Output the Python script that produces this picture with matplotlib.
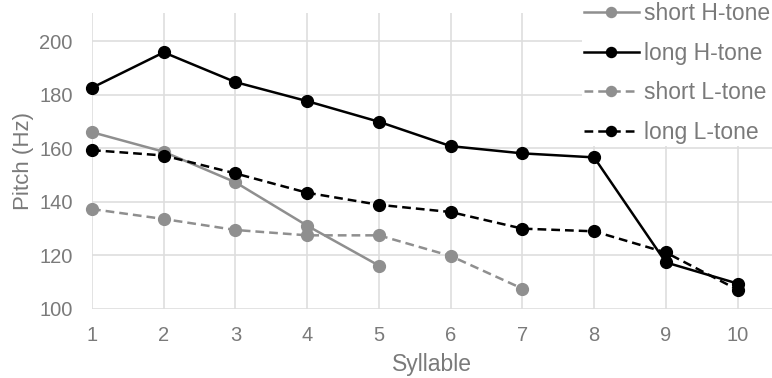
import matplotlib
matplotlib.use("Agg")
import matplotlib.pyplot as plt

plt.rcParams['font.family'] = ['Liberation Sans', 'DejaVu Sans']

syll_long = [1, 2, 3, 4, 5, 6, 7, 8, 9, 10]
syll_shortH = [1, 2, 3, 4, 5]
syll_shortL = [1, 2, 3, 4, 5, 6, 7]

short_H = [166.0, 158.7, 147.3, 131.1, 116.2]
long_H = [182.6, 195.8, 184.7, 177.6, 169.9, 160.8, 158.1, 156.6, 117.4, 109.5]
short_L = [137.3, 133.6, 129.5, 127.5, 127.5, 119.8, 107.6]
long_L = [159.3, 157.3, 150.6, 143.4, 138.9, 136.2, 130.0, 129.0, 121.1, 107.2]

labels = ['short H-tone', 'long H-tone', 'short L-tone', 'long L-tone']
gray = '#8f8f8f'
black = '#000000'
text_col = '#7a7a7a'
grid_col = '#dedede'

fig = plt.figure(figsize=(7.72, 3.78), dpi=100)
ax = fig.add_axes([92/772, 1 - 309/378, 1 - 92/772, (309 - 13)/378])

kw = dict(marker='o', markersize=8.5, linewidth=1.8, clip_on=False)
ax.plot(syll_shortH, short_H, color=gray, linestyle='-', label=labels[0], zorder=3, **kw)
ax.plot(syll_long, long_H, color=black, linestyle='-', label=labels[1], zorder=4, **kw)
ax.plot(syll_shortL, short_L, color=gray, linestyle=(0, (3.5, 2)), label=labels[2], zorder=3, **kw)
ax.plot(syll_long, long_L, color=black, linestyle=(0, (3.5, 2)), label=labels[3], zorder=4, **kw)

ax.set_xlim(1, 10.48)
ax.set_ylim(100, 210.5)
ax.set_xticks(range(1, 11))
ax.set_yticks(range(100, 201, 20))
ax.grid(True, color=grid_col, linewidth=1.2, zorder=0)
ax.set_axisbelow(True)
for s in ax.spines.values():
    s.set_visible(False)
ax.tick_params(length=0, labelsize=14.5, labelcolor=text_col, pad=14)
ax.tick_params(axis='x', pad=12)
ax.set_xlabel('Syllable', fontsize=16.5, color=text_col, labelpad=6)
ax.set_ylabel('Pitch (Hz)', fontsize=16, color=text_col, labelpad=4)

leg = ax.legend(loc='upper right', bbox_to_anchor=(1.0, 1.0), bbox_transform=fig.transFigure,
                frameon=True, fontsize=16.5, handlelength=2.4, handletextpad=0.2,
                labelspacing=0.72, markerscale=0.85, borderaxespad=0.0, borderpad=0.1)
leg.get_frame().set_facecolor('white')
leg.get_frame().set_edgecolor('none')
leg.get_frame().set_alpha(1.0)
leg.set_zorder(10)
for t in leg.get_texts():
    t.set_color(text_col)

fig.savefig('out.png', dpi=100)
